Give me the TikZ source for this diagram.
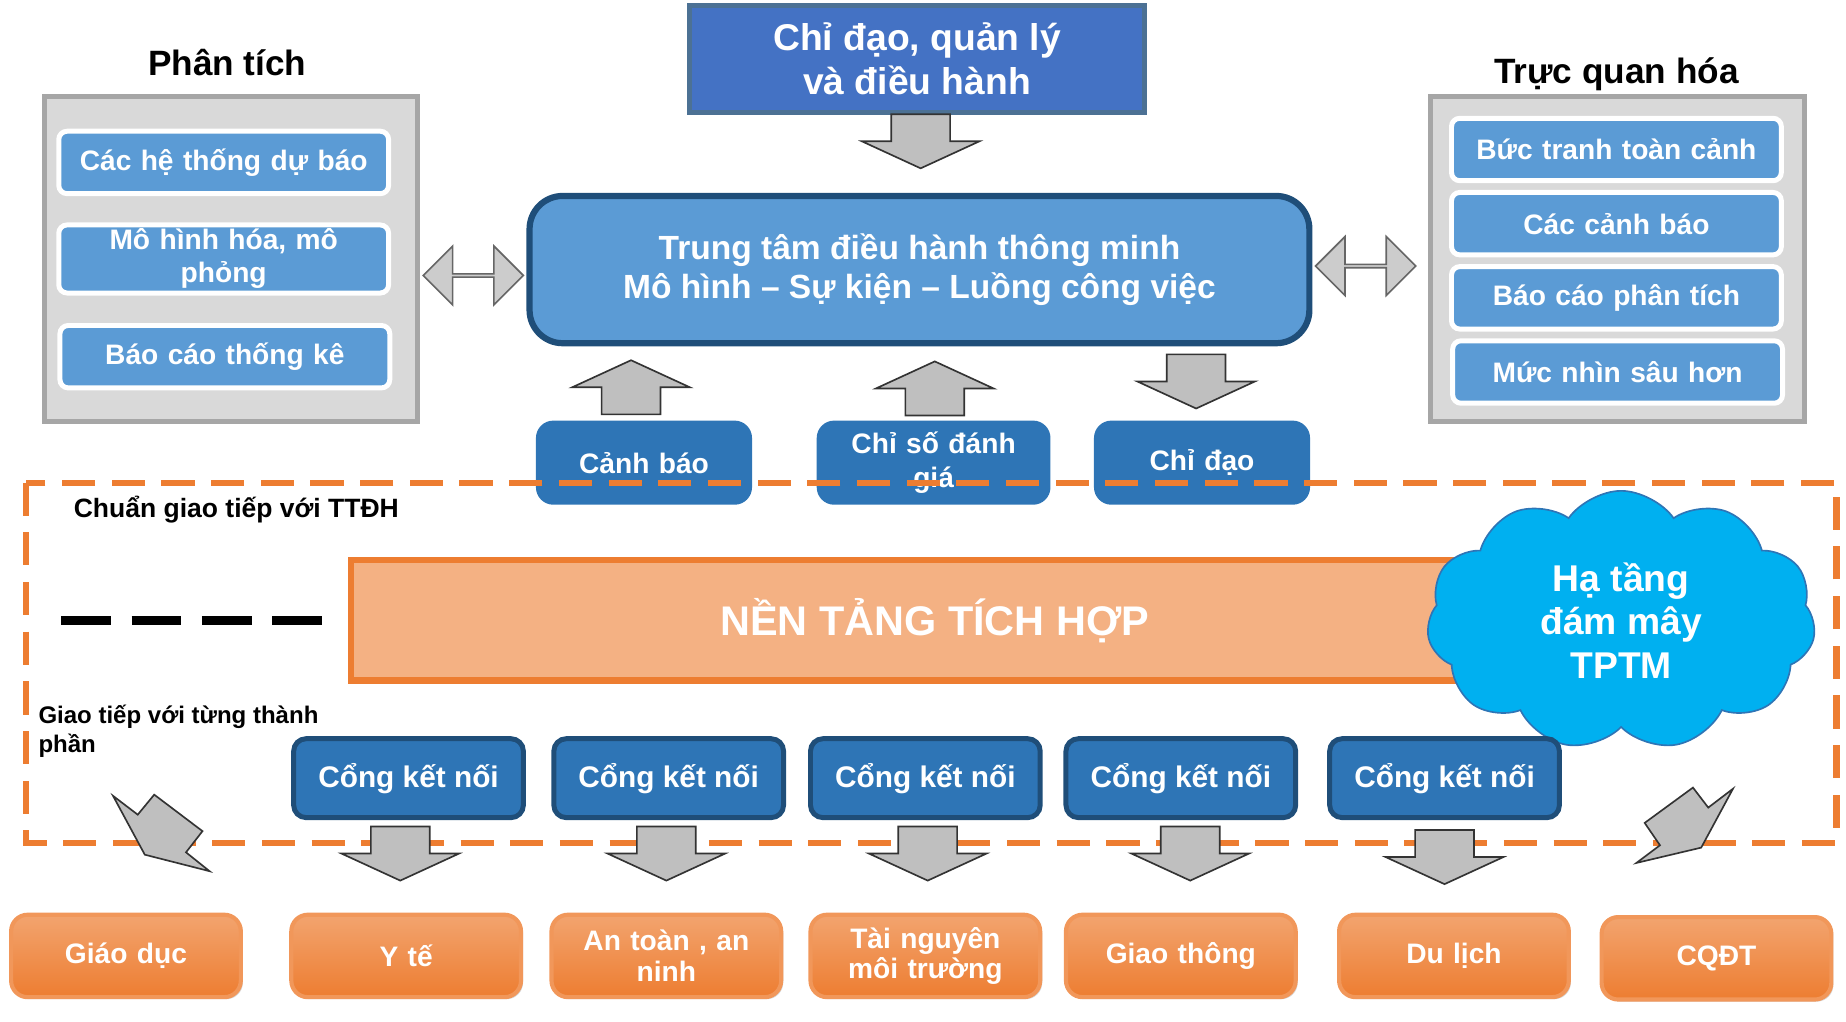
\documentclass[tikz,border=0pt]{standalone}
\usepackage{fontspec}
\setmainfont{Liberation Sans}
\usetikzlibrary{shapes.arrows,shapes.symbols,shadows}
\definecolor{bluea}{HTML}{5B9BD5}
\definecolor{blueb}{HTML}{2E75B6}
\definecolor{bluec}{HTML}{4472C4}
\definecolor{blued}{HTML}{1F4E79}
\definecolor{orangea}{HTML}{ED7D31}
\definecolor{orangeb}{HTML}{F4B183}
\definecolor{cloudc}{HTML}{00B0F0}
\tikzset{
  txt/.style={font=\bfseries\fontsize{6.8}{8}\selectfont, text=white, align=center, inner sep=1pt},
  panel/.style={draw=gray!70, line width=1.2pt, fill=gray!30},
  item/.style={txt, draw=white, line width=1.2pt, fill=bluea, rounded corners=2pt, minimum width=2.8cm, minimum height=0.53cm, text width=2.7cm},
  small/.style={txt, draw=blueb, fill=blueb, rounded corners=4pt, minimum width=1.82cm, minimum height=0.7cm, text width=1.75cm},
  gate/.style={txt, draw=blued, line width=1.2pt, fill=blueb, rounded corners=3pt, minimum width=1.95cm, minimum height=0.67cm, font=\bfseries\fontsize{7.2}{8}\selectfont},
  field/.style={txt, draw=orangea!80!white, line width=1pt, rounded corners=4pt, top color=orangea!70, bottom color=orangea, minimum width=1.95cm, minimum height=0.7cm, text width=1.85cm, drop shadow={shadow xshift=0.5pt, shadow yshift=-0.5pt, opacity=0.3}, font=\bfseries\fontsize{6.8}{7.4}\selectfont},
  dblk/.style={double arrow, draw=black!60, fill=gray!40, minimum width=0.5cm, double arrow head extend=0.12cm, inner sep=0pt, minimum height=0.85cm},
  title/.style={font=\bfseries\fontsize{8.5}{10}\selectfont},
  pics/blk/.style={code={
    \draw[black!80, fill=gray!50] (-25,-23) -- (25,-23) -- (25,0) -- (50,0) -- (0,23) -- (-50,0) -- (-25,0) -- cycle;}}
}
\begin{document}
\begin{tikzpicture}[x=0.01cm, y=-0.01cm]
\useasboundingbox (0,0) rectangle (1568,868);
% top
\node[txt, draw=blued!80, line width=1.2pt, fill=bluec, minimum width=3.86cm, minimum height=0.91cm, font=\bfseries\fontsize{9}{10.5}\selectfont] (lead) at (779,50) {Chỉ đạo, quản lý\\và điều hành};
\pic at (782,120) {blk};
% left panel
\node[title] (tl) at (193,53) {Phân tích};
\draw[panel] (38,82) rectangle (355,358);
\node[item] (l1) at (190,138) {Các hệ thống dự báo};
\node[item, text height=0.5em] (l2) at (190,220) {Mô hình hóa, mô\\phỏng};
\node[item] (l3) at (191,303) {Báo cáo thống kê};
% right panel
\node[title] (tr) at (1373,63) {Trực quan hóa};
\draw[panel] (1215,82) rectangle (1533,358);
\node[item] (r1) at (1373,127) {Bức tranh toàn cảnh};
\node[item] (r2) at (1373,190) {Các cảnh báo};
\node[item] (r3) at (1373,253) {Báo cáo phân tích};
\node[item] (r4) at (1374,316) {Mức nhìn sâu hơn};
% centre
\node[txt, draw=blued, line width=1.5pt, fill=bluea, rounded corners=8pt, minimum width=6.62cm, minimum height=1.25cm, font=\bfseries\fontsize{8.1}{9.6}\selectfont] (hub) at (781,229) {Trung tâm điều hành thông minh\\Mô hình -- Sự kiện -- Luồng công việc};
\node[dblk] (dl) at (402,234) {};
\node[dblk] (dr) at (1160,226) {};
% alerts
\node[small] (b1) at (547,393) {Cảnh báo};
\node[small, minimum width=1.96cm, text width=1.9cm] (b2) at (793,393) {Chỉ số đánh\\giá};
\node[small] (b3) at (1021,393) {Chỉ đạo};
\pic[rotate=180] at (536,329) {blk};
\pic[rotate=180] at (794,330) {blk};
\pic at (1016,324) {blk};
% integration zone
\draw[orangea, line width=1.5pt, dash pattern=on 8pt off 4pt] (22,410) rectangle (1560,716);
\node[font=\bfseries\fontsize{6.4}{7}\selectfont, anchor=west, inner sep=0pt] (std) at (62,433) {Chuẩn giao tiếp với TTĐH};
\coordinate (d1) at (52,527);
\coordinate (d2) at (285,527);
\draw[line width=2pt, dash pattern=on 12pt off 5pt] (d1) -- (d2);
\node[txt, draw=orangea, line width=1.5pt, fill=orangeb, minimum width=9.91cm, minimum height=1.02cm, font=\bfseries\fontsize{10}{12}\selectfont] (base) at (794,527) {NỀN TẢNG TÍCH HỢP};
\node[cloud, cloud puffs=11, cloud puff arc=110, aspect=1.5, draw=blueb, fill=cloudc, minimum width=3.3cm, minimum height=2.2cm, txt, font=\bfseries\fontsize{9}{10.5}\selectfont] (cloud) at (1377,527) {Hạ tầng\\đám mây\\TPTM};
\node[font=\bfseries\fontsize{5.8}{7}\selectfont, anchor=north west, align=left, inner sep=0pt] (each) at (32,598) {Giao tiếp với từng thành\\phần};
% gates, arrows, fields
\foreach \n/\x/\ax/\ay in {1/347/340/725, 2/568/566/725, 3/786/788/725, 4/1003/1011/725, 5/1227/1227/728}
  {\node[gate] (g\n) at (\x,661) {Cổng kết nối};
   \pic at (\ax,\ay) {blk};};
\node[field] (f1) at (107,812) {Giáo dục};
\node[field] (f2) at (345,812) {Y tế};
\node[field] (f3) at (566,812) {An toàn , an\\ninh};
\node[field] (f4) at (786,812) {Tài nguyên\\môi trường};
\node[field] (f5) at (1003,812) {Giao thông};
\node[field] (f6) at (1235,812) {Du lịch};
\node[field] (f7) at (1458,814) {CQĐT};
% slanted arrows
\draw[black!80, fill=gray!50] (96,676) -- (117,692) -- (131,675) -- (172,706) -- (158,724) -- (178,740) -- (123,726) -- cycle;
\draw[black!80, fill=gray!50] (1390,733) -- (1410,718) -- (1397,699) -- (1438,669) -- (1451,686) -- (1472,670) -- (1445,720) -- cycle;
\end{tikzpicture}
\end{document}
